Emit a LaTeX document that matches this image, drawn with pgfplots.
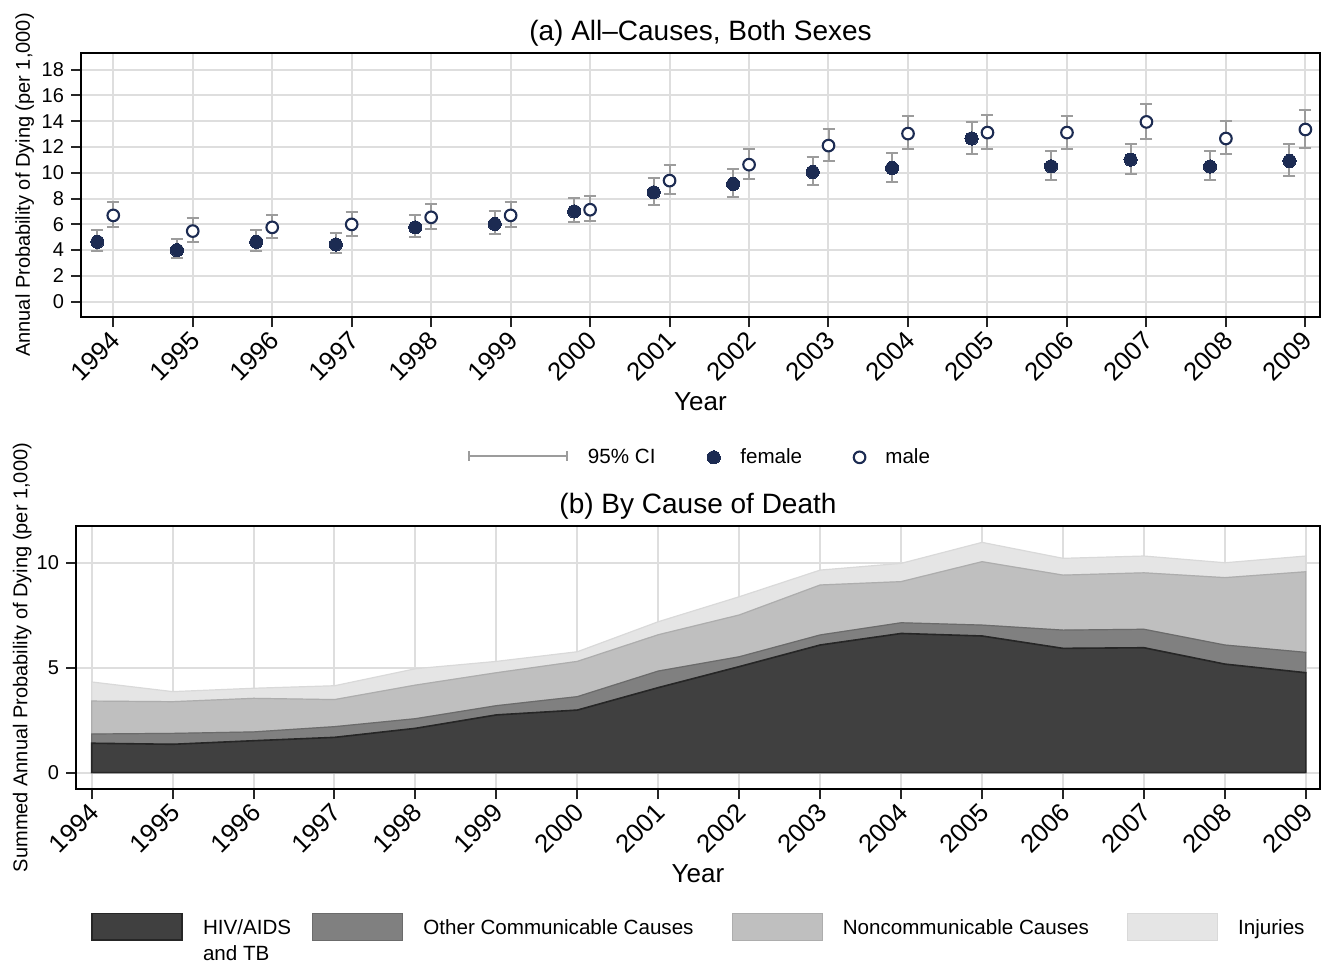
\documentclass[border=0pt]{standalone}
\usepackage{pgfplots}
\pgfplotsset{compat=1.18}
\usepackage{pgfplotstable}
\usepackage{fontspec}
\setmainfont{Liberation Sans}
\definecolor{navy}{HTML}{1C2B52}
\definecolor{cigray}{HTML}{9C9C9C}
\definecolor{gridc}{HTML}{DEDEDE}
\definecolor{hivc}{HTML}{404040}
\definecolor{othc}{HTML}{808080}
\definecolor{ncdc}{HTML}{BFBFBF}
\definecolor{injc}{HTML}{E5E5E5}

\pgfplotstableread{
x y lo hi
1993.8 4.64 3.92 5.52
1994.8 3.99 3.35 4.82
1995.8 4.64 3.94 5.52
1996.8 4.43 3.76 5.29
1997.8 5.76 4.98 6.72
1998.8 6.02 5.21 7.00
1999.8 7.00 6.15 8.07
2000.8 8.48 7.52 9.62
2001.8 9.13 8.12 10.30
2002.8 10.06 9.02 11.26
2003.8 10.37 9.28 11.51
2004.8 12.66 11.44 13.95
2005.8 10.50 9.44 11.72
2006.8 11.02 9.91 12.21
2007.8 10.48 9.41 11.67
2008.8 10.92 9.73 12.27
}\femaletab

\pgfplotstableread{
x y lo hi
1994 6.69 5.76 7.75
1995 5.47 4.64 6.46
1996 5.76 4.90 6.74
1997 5.99 5.11 6.98
1998 6.54 5.65 7.55
1999 6.69 5.78 7.70
2000 7.13 6.25 8.22
2001 9.39 8.32 10.58
2002 10.63 9.49 11.88
2003 12.11 10.89 13.43
2004 13.04 11.83 14.44
2005 13.12 11.88 14.52
2006 13.12 11.85 14.44
2007 13.95 12.63 15.35
2008 12.66 11.44 14.00
2009 13.36 11.96 14.86
}\maletab

\pgfplotstableread{
year hiv oth ncd inj
1994 1.40 0.44 1.57 0.91
1995 1.35 0.52 1.51 0.48
1996 1.52 0.42 1.60 0.48
1997 1.68 0.51 1.29 0.66
1998 2.11 0.46 1.60 0.78
1999 2.75 0.44 1.57 0.54
2000 2.98 0.64 1.68 0.46
2001 4.05 0.79 1.73 0.62
2002 5.05 0.47 1.99 0.87
2003 6.08 0.48 2.38 0.71
2004 6.63 0.51 1.96 0.87
2005 6.51 0.52 3.02 0.92
2006 5.92 0.87 2.62 0.80
2007 5.95 0.88 2.69 0.80
2008 5.17 0.91 3.21 0.71
2009 4.76 0.97 3.84 0.75
}\causetab

\pgfplotsset{
  stata/.style={
    scale only axis,
    axis line style={black, line width=1pt},
    tick align=outside,
    tick pos=left,
    major tick length=5pt,
    tick style={black!85, line width=1pt},
    grid=major,
    grid style={gridc, line width=1pt},
    xtick={1994,...,2009},
    /pgf/number format/assume math mode=true,
    /pgf/number format/1000 sep={},
    xticklabel style={font=\fontsize{12.8}{14}\selectfont, yshift=-3.5pt, xshift=2pt, rotate=45, anchor=east, inner sep=1pt},
    yticklabel style={font=\fontsize{10}{12}\selectfont},
    title style={font=\fontsize{14}{16}\selectfont, at={(0.5,1)}, anchor=base, yshift=0.4pt},
    xlabel style={font=\fontsize{13}{15}\selectfont, at={(axis description cs:0.5,0)}, anchor=base, yshift=-46.5pt},
    legend style={draw=none, fill=none, inner sep=0pt, nodes={inner sep=0pt},
      cells={anchor=base west},
      font=\fontsize{10.3}{13}\selectfont},
  },
  cilegend/.style={legend image code/.code={\draw[cigray, line width=1pt] (0pt,4pt)--(49pt,4pt) (0pt,1.5pt)--(0pt,6.5pt) (49pt,1.5pt)--(49pt,6.5pt);}},
  dotlegend/.style={legend image code/.code={\draw[##1] plot coordinates {(3.25pt,3.3pt)};}},
  boxlegend/.style={legend image code/.code={\draw[##1] (0pt,-3pt) rectangle (45pt,10.35pt);}},
}

\begin{document}
\begin{tikzpicture}
\useasboundingbox (0,0) rectangle (661.5pt,-481.5pt);

% ---------- panel (a)
\begin{axis}[stata,
  at={(40.5pt,-158.5pt)}, anchor=south west,
  width=619.5pt, height=132pt,
  xmin=1993.594, xmax=2009.184, ymin=-1.2, ymax=19.3,
  ytick={0,2,...,18},
  title={(a) All--Causes, Both Sexes},
  xlabel={Year},
  ylabel={Annual Probability of Dying (per 1,000)},
  ylabel style={font=\fontsize{10}{12}\selectfont, at={(axis description cs:-0.0412,0.5)}, anchor=base},
  legend columns=3,
  legend style={at={(0.4988,-0.5340)}, anchor=center,
    /tikz/every odd column/.append style={column sep=10pt},
    /tikz/every even column/.append style={column sep=25.8pt}},
]
\addplot[only marks, mark=none, cilegend,
  error bars/.cd, y dir=both, y explicit,
  error bar style={draw=cigray, line width=1pt},
  error mark options={draw=cigray, line width=1pt, mark size=3pt, rotate=90}]
  table[x=x, y=y, y error plus expr=\thisrow{hi}-\thisrow{y}, y error minus expr=\thisrow{y}-\thisrow{lo}] {\femaletab};
\addlegendentry{95\% CI}
\addplot[forget plot, only marks, mark=none,
  error bars/.cd, y dir=both, y explicit,
  error bar style={draw=cigray, line width=1pt},
  error mark options={draw=cigray, line width=1pt, mark size=3pt, rotate=90}]
  table[x=x, y=y, y error plus expr=\thisrow{hi}-\thisrow{y}, y error minus expr=\thisrow{y}-\thisrow{lo}] {\maletab};
\addplot[only marks, mark=*, mark size=3.3pt, mark options={fill=navy, draw=navy, line width=0pt}, dotlegend]
  table[x=x, y=y] {\femaletab};
\addlegendentry{female}
\addplot[only marks, mark=*, mark size=2.9pt, mark options={fill=white, draw=navy, line width=1.05pt}, dotlegend]
  table[x=x, y=y] {\maletab};
\addlegendentry{male}
\end{axis}

% ---------- panel (b)
\begin{axis}[stata,
  at={(38pt,-394.5pt)}, anchor=south west,
  width=622pt, height=131.5pt,
  xmin=1993.806, xmax=2009.175, ymin=-0.78, ymax=11.75,
  ytick={0,5,10},
  stack plots=y,
  title={(b) By Cause of Death},
  xlabel={Year},
  ylabel={Summed Annual Probability of Dying (per 1,000)},
  ylabel style={font=\fontsize{10}{12}\selectfont, at={(axis description cs:-0.039,0.5)}, anchor=base},
  legend columns=4,
  legend style={at={(0.5,-0.4690)}, anchor=north,
    /tikz/column 1/.style={column sep=10pt},
    /tikz/column 2/.style={column sep=10.5pt},
    /tikz/column 3/.style={column sep=10pt},
    /tikz/column 4/.style={column sep=19pt},
    /tikz/column 5/.style={column sep=10pt},
    /tikz/column 6/.style={column sep=19pt},
    /tikz/column 7/.style={column sep=10pt}},
]
\addplot[fill=hivc, draw=black!85, line width=0.8pt, boxlegend] table[x=year, y=hiv] {\causetab} \closedcycle;
\addlegendentry{{\begin{tabular}[t]{@{}l@{}}HIV/AIDS\\and TB\end{tabular}}}
\addplot[fill=othc, draw=black!58, line width=0.6pt, boxlegend] table[x=year, y=oth] {\causetab} \closedcycle;
\addlegendentry{Other Communicable Causes}
\addplot[fill=ncdc, draw=black!32, line width=0.6pt, boxlegend] table[x=year, y=ncd] {\causetab} \closedcycle;
\addlegendentry{Noncommunicable Causes}
\addplot[fill=injc, draw=black!15, line width=0.6pt, boxlegend] table[x=year, y=inj] {\causetab} \closedcycle;
\addlegendentry{Injuries}
\end{axis}
\end{tikzpicture}
\end{document}
